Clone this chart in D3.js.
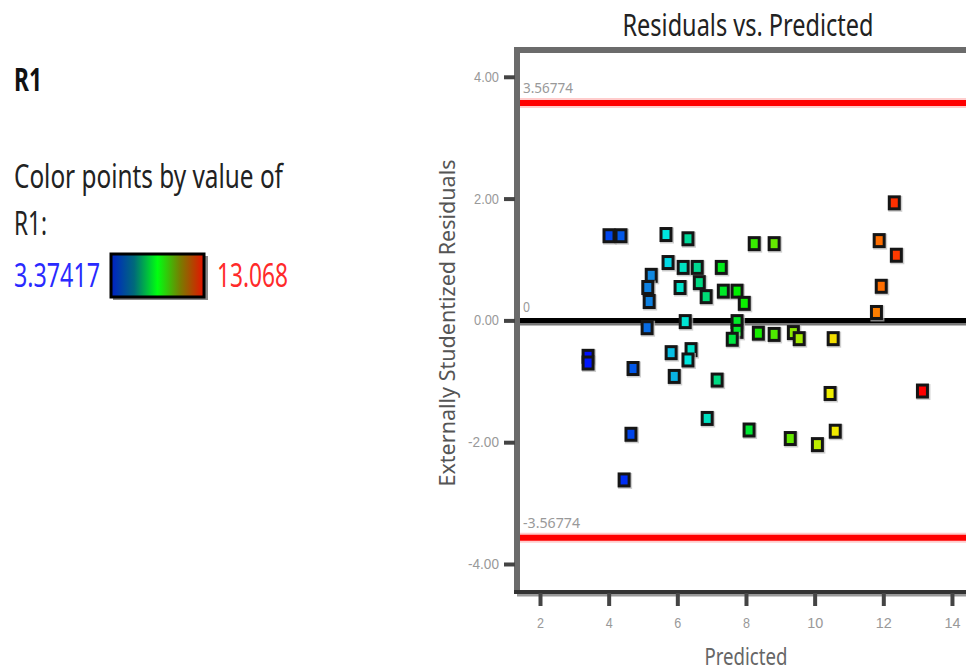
<!DOCTYPE html>
<html>
<head>
<meta charset="utf-8">
<script src="https://cdn.jsdelivr.net/npm/d3@7"></script>
<style>
  body { margin: 0; background: #fff; }
  svg { display: block; font-family: "Noto Sans", "Open Sans", sans-serif; }
</style>
</head>
<body>
<svg id="chart" width="966" height="672"></svg>
<script>
// predicted value, externally studentized residual, actual R1 (used for colour)
var predicted = [4.01, 4.36, 5.67, 6.31, 8.24, 8.82, 11.88, 12.32, 12.38, 11.94, 11.80,
  5.73, 6.17, 6.58, 7.28, 5.24, 5.14, 6.08, 6.64, 7.34, 7.74, 6.84, 7.95, 5.18,
  5.12, 6.23, 7.74, 7.74, 7.60, 8.36, 8.82, 9.38, 9.55, 10.54, 3.40, 3.40, 4.71,
  5.82, 6.40, 6.31, 5.91, 7.16, 10.45, 13.14, 6.87, 8.09, 10.60, 9.29, 10.08, 4.65, 4.45];
var residuals = [1.39, 1.39, 1.41, 1.34, 1.26, 1.26, 1.31, 1.93, 1.07, 0.56, 0.13,
  0.95, 0.87, 0.87, 0.87, 0.74, 0.54, 0.54, 0.62, 0.48, 0.48, 0.39, 0.28, 0.31,
  -0.12, -0.02, -0.02, -0.18, -0.31, -0.21, -0.23, -0.20, -0.30, -0.30, -0.59, -0.70, -0.79,
  -0.53, -0.48, -0.65, -0.92, -0.98, -1.20, -1.16, -1.61, -1.80, -1.82, -1.94, -2.04, -1.87, -2.62];
var r1Values = [4.3, 4.6, 6.1, 6.8, 8.5, 8.9, 12.0, 12.6, 12.5, 12.0, 11.8,
  5.9, 6.4, 6.9, 7.8, 5.3, 5.2, 6.3, 7.0, 7.7, 8.0, 7.1, 8.1, 5.2,
  4.9, 6.2, 7.7, 7.7, 7.5, 8.2, 8.7, 9.2, 9.4, 10.3, 3.374, 3.5, 4.6,
  5.7, 6.3, 6.1, 5.6, 7.0, 10.0, 13.068, 6.4, 7.6, 10.1, 8.9, 9.6, 4.3, 3.9];

var r1Min = 3.37417, r1Max = 13.068;
var limitValues = [3.56774, -3.56774];
var xTicks = [2, 4, 6, 8, 10, 12, 14];
var yTicks = [4, 2, 0, -2, -4];

var points = predicted.map(function(p, i) {
  return { x: p, y: residuals[i], r1: r1Values[i] };
});

var svg = d3.select("#chart");

// the original text is tall and narrow, so squeeze it to its measured width
function label(px, py, str, size, len, fill, anchor) {
  var t = svg.append("text").attr("x", px).attr("y", py)
    .style("font-size", size + "px").attr("fill", fill)
    .attr("text-anchor", anchor || "start")
    .text(str);
  if (len) t.attr("textLength", len).attr("lengthAdjust", "spacingAndGlyphs");
  return t;
}

// left panel
label(14, 91, "R1", 32, 28, "#111").style("font-weight", "bold");
label(14, 188, "Color points by value of", 32, 269, "#222");
label(14, 235, "R1:", 32, 33, "#222");
label(14, 287, r1Min, 32, 86, "#2a2aff");
label(217, 287, r1Max, 32, 71, "#ff2a2a");

var defs = svg.append("defs");
var grad = defs.append("linearGradient").attr("id", "legendGrad");
[["0%", "#0020c8"], ["25%", "#006a7a"], ["50%", "#00ff10"], ["75%", "#7a7a00"], ["100%", "#e81000"]]
  .forEach(function(s) { grad.append("stop").attr("offset", s[0]).attr("stop-color", s[1]); });
svg.append("rect").attr("x", 113).attr("y", 256).attr("width", 95).attr("height", 44)
  .attr("fill", "#888");
svg.append("rect").attr("x", 111).attr("y", 254).attr("width", 93).attr("height", 43)
  .attr("fill", "url(#legendGrad)").attr("stroke", "#000").attr("stroke-width", 3);

// plot area
var pLeft = 517, pTop = 50, pBottom = 592, pRight = 966;
var pxPerUnit = 34.33;
var x = d3.scaleLinear().domain([1.33, 16]).range([pLeft, pLeft + (16 - 1.33) * pxPerUnit]);
var y = d3.scaleLinear().domain([-4.46, 4.44]).range([pBottom, pTop]);

var color = d3.scaleLinear()
  .domain([3.37, 4.5, 5.3, 6.0, 6.9, 8.0, 9.0, 10.0, 11.9, 13.07])
  .range(["#0010ff", "#0050e8", "#1088e0", "#00e8e8", "#00d890", "#00f000", "#70e800", "#f0f000", "#ff7800", "#ff0000"]);

label(748, 36, "Residuals vs. Predicted", 30, 251, "#222", "middle");
label(746, 665, "Predicted", 24, 83, "#666", "middle");
svg.append("text").attr("transform", "translate(455,323) rotate(-90)")
  .attr("text-anchor", "middle").style("font-size", "22px").attr("fill", "#555")
  .attr("textLength", 327).attr("lengthAdjust", "spacingAndGlyphs")
  .text("Externally Studentized Residuals");

// frame
svg.append("line").attr("x1", pLeft).attr("x2", pRight).attr("y1", pTop).attr("y2", pTop)
  .attr("stroke", "#6b6b6b").attr("stroke-width", 6);
svg.append("line").attr("x1", pLeft).attr("x2", pLeft).attr("y1", pTop - 3).attr("y2", pBottom)
  .attr("stroke", "#6b6b6b").attr("stroke-width", 6);
svg.append("line").attr("x1", pLeft).attr("x2", pRight).attr("y1", pBottom + 3).attr("y2", pBottom + 3)
  .attr("stroke", "#999").attr("stroke-width", 3);
svg.append("line").attr("x1", pLeft - 3).attr("x2", pRight).attr("y1", pBottom).attr("y2", pBottom)
  .attr("stroke", "#333").attr("stroke-width", 4);

// axes
var fmt = d3.format(".2f");
var yAxis = d3.axisLeft(y).tickValues(yTicks).tickSize(11).tickPadding(5)
  .tickFormat(function(d) { return fmt(d).replace("\u2212", "-"); });
var gy = svg.append("g").attr("transform", "translate(" + (pLeft - 2) + ",0)").call(yAxis);
gy.select(".domain").remove();
gy.selectAll(".tick line").attr("stroke", "#444").attr("stroke-width", 4);
gy.selectAll(".tick text").attr("fill", "#999").style("font-size", "14px")
  .attr("textLength", function(d) { return d < 0 ? 31 : 25; })
  .attr("lengthAdjust", "spacingAndGlyphs");

var xAxis = d3.axisBottom(x).tickValues(xTicks).tickSize(13).tickPadding(12);
var gx = svg.append("g").attr("transform", "translate(0," + (pBottom + 1) + ")").call(xAxis);
gx.select(".domain").remove();
gx.selectAll(".tick line").attr("stroke", "#444").attr("stroke-width", 4);
gx.selectAll(".tick text").attr("fill", "#999").style("font-size", "14px")
  .attr("textLength", function(d) { return d < 10 ? 7 : 16; })
  .attr("lengthAdjust", "spacingAndGlyphs");

// limit lines
limitValues.forEach(function(v) {
  svg.append("line").attr("x1", pLeft + 3).attr("x2", pRight).attr("y1", y(v)).attr("y2", y(v))
    .attr("stroke", "#ffcccc").attr("stroke-width", 10);
  svg.append("line").attr("x1", pLeft + 3).attr("x2", pRight).attr("y1", y(v)).attr("y2", y(v))
    .attr("stroke", "#ff0000").attr("stroke-width", 6);
  label(pLeft + 6, y(v) - 10, d3.format(".5f")(v).replace("\u2212", "-"), 14,
    v < 0 ? 57 : 50, "#999");
});

// zero line
svg.append("line").attr("x1", pLeft + 3).attr("x2", pRight).attr("y1", y(0) + 3).attr("y2", y(0) + 3)
  .attr("stroke", "#777").attr("stroke-width", 4);
svg.append("line").attr("x1", pLeft + 3).attr("x2", pRight).attr("y1", y(0)).attr("y2", y(0))
  .attr("stroke", "#000").attr("stroke-width", 5);
label(pLeft + 6, y(0) - 8, "0", 14, 7, "#999");

// points
var pts = svg.append("g").selectAll("g").data(points).enter().append("g")
  .attr("transform", function(d) { return "translate(" + x(d.x) + "," + y(d.y) + ")"; });
pts.append("rect").attr("x", -6).attr("y", -7).attr("width", 14).attr("height", 16)
  .attr("fill", "#bbb").attr("opacity", 0.7);
pts.append("rect").attr("x", -5).attr("y", -6).attr("width", 10).attr("height", 12)
  .attr("fill", function(d) { return color(d.r1); })
  .attr("stroke", "#151515").attr("stroke-width", 3);
</script>
</body>
</html>
